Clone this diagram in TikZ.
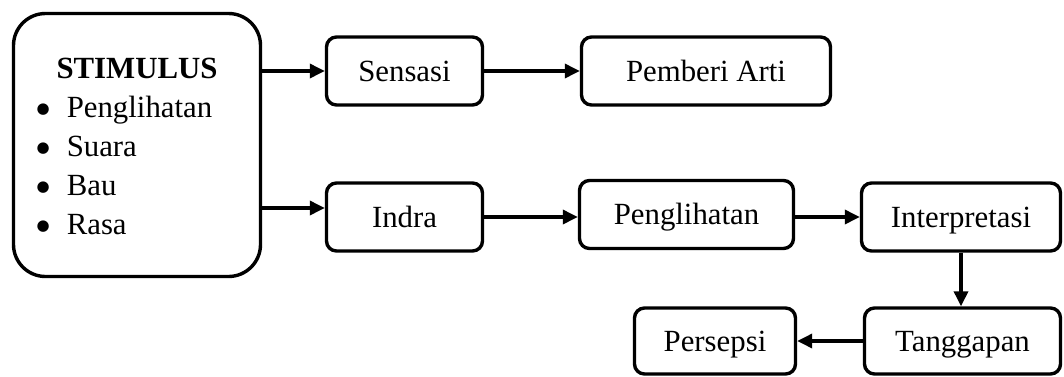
\documentclass[tikz,border=0pt]{standalone}
\usepackage{fontspec}
\setmainfont{Liberation Serif}
\newfontfamily\dotfont{DejaVu Sans}
\usetikzlibrary{arrows.meta}
\usetikzlibrary{positioning}

\newcommand{\bigdot}{{\dotfont\fontsize{7.5pt}{10pt}\selectfont\raisebox{1.6pt}{●}}}

\begin{document}
\begin{tikzpicture}[x=0.5pt,y=-0.5pt,->,>={Triangle[length=7.5pt,width=7pt]},
                    line width=1.7pt,font=\fontsize{15.4pt}{19.5pt}\selectfont,
                    flow box/.style={draw,rounded corners=5pt,inner sep=0pt,minimum height=34pt,
                                     text height=11pt,text depth=1pt},
                    big box/.style={draw,rounded corners=16pt,inner sep=0pt}]

  \useasboundingbox (0,0) rectangle (1064,376);

  \node[big box,minimum width=123.5pt,minimum height=131.5pt] (stim) at (137,145) {};
  \node[anchor=base,font=\fontsize{15.4pt}{19.5pt}\selectfont\bfseries] (title) at (137,78) {STIMULUS};
  \node[anchor=base west,inner sep=0pt] (list) at (35,117)
  	{\begin{tabular}[t]{@{}l@{\hspace{8.5pt}}l@{}}
  	 \bigdot&Penglihatan\\
  	 \bigdot&Suara\\
  	 \bigdot&Bau\\
  	 \bigdot&Rasa
  	 \end{tabular}};

  \node[flow box,minimum width=78pt] (sens) at (404.5,71) {Sensasi};
  \node[flow box,minimum width=124.5pt] (arti) at (706,71) {Pemberi Arti};

  \node[flow box,minimum width=78pt] (indra) at (404.5,217) {Indra};
  \node[flow box,minimum width=107pt] (peng) at (686.5,214.5) {Penglihatan};
  \node[flow box,minimum width=99.5pt] (interp) at (961,217) {Interpretasi};

  \node[flow box,minimum width=98pt,minimum height=33pt] (tangg) at (962.5,341) {Tanggapan};
  \node[flow box,minimum width=80.5pt,minimum height=33pt] (pers) at (715,341) {Persepsi};

  \draw (stim.east |- sens.west) -- (sens.west);
  \draw ([yshift=4.5pt]indra.west -| stim.east) -- ([yshift=4.5pt]indra.west);
  \draw (sens) -- (arti);
  \draw (indra.east) -- (indra.east -| peng.west);
  \draw (peng.east |- interp.west) -- (interp.west);
  \draw (interp.south) -- (interp.south |- tangg.north);
  \draw (tangg) -- (pers);
\end{tikzpicture}
\end{document}
